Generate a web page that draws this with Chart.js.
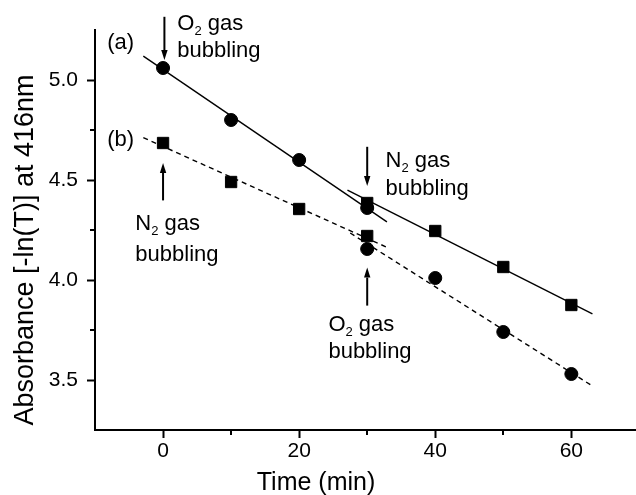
<!DOCTYPE html>
<html><head><meta charset="utf-8">
<script src="https://cdn.jsdelivr.net/npm/chart.js@4"></script>
<style>html,body{margin:0;padding:0;background:#fff;overflow:hidden}canvas{display:block}</style>
</head><body>
<canvas id="c" width="636" height="495"></canvas>
<script>
// ---- data ----
const TIME_BEFORE = [0, 10, 20, 30];
const TIME_AFTER = [30, 40, 50, 60];
const CIRCLE_BEFORE = [5.06, 4.80, 4.60, 4.36];    // (a) O2 bubbling
const CIRCLE_AFTER = [4.155, 4.01, 3.74, 3.53];    // circles after the switch
const SQUARE_BEFORE = [4.685, 4.49, 4.355, 4.22];  // (b) N2 bubbling
const SQUARE_AFTER = [4.385, 4.245, 4.065, 3.875]; // squares after the switch
const FIT_A_T = [-2.9, 32.9]; const FIT_A_V = [5.119, 4.291];
const FIT_B_T = [-2.9, 33.0]; const FIT_B_V = [4.712, 4.162];
const FIT_C_T = [27.1, 63.1]; const FIT_C_V = [4.449, 3.831];
const FIT_D_T = [27.5, 63.1]; const FIT_D_V = [4.235, 3.470];
const X_TICKS = [0, 20, 40, 60];
const X_MINOR = [10, 30, 50];
const Y_TICKS = [3.5, 4.0, 4.5, 5.0];
const Y_MINOR = [3.75, 4.25, 4.75];
const X_TITLE = 'Time (min)';
const Y_TITLE = 'Absorbance [-ln(T)] at 416nm';

// annotation anchors (data units)
const LABELS = [
  {t: -8.2, v: 5.157, parts: [['(a)']]},
  {t: -8.2, v: 4.671, parts: [['(b)']]},
  {t: 2.1, v: 5.251, parts: [['O'], ['2', true], [' gas']]},
  {t: 2.1, v: 5.117, parts: [['bubbling']]},
  {t: -4.07, v: 4.248, parts: [['N'], ['2', true], [' gas']]},
  {t: -4.07, v: 4.097, parts: [['bubbling']]},
  {t: 32.7, v: 4.565, parts: [['N'], ['2', true], [' gas']]},
  {t: 32.7, v: 4.423, parts: [['bubbling']]},
  {t: 24.3, v: 3.746, parts: [['O'], ['2', true], [' gas']]},
  {t: 24.3, v: 3.611, parts: [['bubbling']]}
];
const ARROWS = [
  {t: 0.2, from: 5.316, to: 5.10},
  {t: 0, from: 4.398, to: 4.585},
  {t: 30, from: 4.666, to: 4.47},
  {t: 30, from: 3.872, to: 4.062}
];

const FONT = "'Liberation Sans', Arial, Helvetica, sans-serif";

function pts(T, V) { return T.map((t, i) => ({x: t, y: V[i]})); }
function ptDs(T, V, style, r) {
  return {data: pts(T, V), showLine: false, pointStyle: style, pointRadius: r,
    backgroundColor: '#000', borderColor: '#000', borderWidth: 1};
}
function lineDs(T, V, dash) {
  return {data: pts(T, V), showLine: true, borderColor: '#000', borderWidth: 1.4,
    borderDash: dash, pointRadius: 0, fill: false, tension: 0};
}

const annot = {
  id: 'annot',
  afterDraw(chart) {
    const {ctx, scales: {x, y}, chartArea: b} = chart;
    ctx.save();
    ctx.fillStyle = '#000'; ctx.strokeStyle = '#000';
    ctx.lineWidth = 2;
    X_MINOR.forEach(v => {
      const px = Math.round(x.getPixelForValue(v));
      ctx.beginPath(); ctx.moveTo(px, b.bottom); ctx.lineTo(px, b.bottom + 5); ctx.stroke();
    });
    Y_MINOR.forEach(v => {
      const py = Math.round(y.getPixelForValue(v));
      ctx.beginPath(); ctx.moveTo(b.left, py); ctx.lineTo(b.left - 5, py); ctx.stroke();
    });
    ARROWS.forEach(a => {
      const px = x.getPixelForValue(a.t), y0 = y.getPixelForValue(a.from), y1 = y.getPixelForValue(a.to);
      const dir = Math.sign(y1 - y0), head = 10, hw = 3.2;
      ctx.lineWidth = 2;
      ctx.beginPath(); ctx.moveTo(px, y0); ctx.lineTo(px, y1 - dir * head); ctx.stroke();
      ctx.beginPath(); ctx.moveTo(px, y1); ctx.lineTo(px - hw, y1 - dir * head);
      ctx.lineTo(px + hw, y1 - dir * head); ctx.closePath(); ctx.fill();
    });
    ctx.textBaseline = 'alphabetic'; ctx.textAlign = 'left';
    LABELS.forEach(l => {
      let px = x.getPixelForValue(l.t);
      const py = y.getPixelForValue(l.v);
      l.parts.forEach(([s, sub]) => {
        ctx.font = (sub ? 13 : 22) + 'px ' + FONT;
        ctx.fillText(s, px, py + (sub ? 5 : 0));
        px += ctx.measureText(s).width;
      });
    });
    ctx.textAlign = 'center';
    ctx.font = '25px ' + FONT;
    ctx.fillText(X_TITLE, 316, 490);
    ctx.translate(33, 250); ctx.rotate(-Math.PI / 2);
    ctx.font = '27px ' + FONT;
    ctx.fillText(Y_TITLE, 0, 0);
    ctx.restore();
  }
};

new Chart(document.getElementById('c'), {
  type: 'scatter',
  data: {datasets: [
    ptDs(TIME_BEFORE, CIRCLE_BEFORE, 'circle', 6.5),
    ptDs(TIME_AFTER, CIRCLE_AFTER, 'circle', 6.5),
    ptDs(TIME_BEFORE, SQUARE_BEFORE, 'rect', 8),
    ptDs(TIME_AFTER, SQUARE_AFTER, 'rect', 8),
    lineDs(FIT_A_T, FIT_A_V, []),
    lineDs(FIT_B_T, FIT_B_V, [5, 4]),
    lineDs(FIT_C_T, FIT_C_V, []),
    lineDs(FIT_D_T, FIT_D_V, [5, 4])
  ]},
  options: {
    responsive: false, animation: false, events: [],
    layout: {autoPadding: false, padding: {top: 30, right: 0, left: 0, bottom: 0}},
    plugins: {legend: {display: false}, tooltip: {enabled: false}},
    scales: {
      x: {
        type: 'linear', min: -10, max: 69.5,
        afterBuildTicks: s => { s.ticks = X_TICKS.map(v => ({value: v})); },
        afterFit: s => { s.height = 65; s.paddingLeft = 0; s.paddingRight = 0; },
        border: {display: true, color: '#000', width: 2},
        grid: {display: true, drawOnChartArea: false, drawTicks: true, tickLength: 8, tickWidth: 2, tickColor: '#000', color: '#000'},
        ticks: {autoSkip: false, maxRotation: 0, color: '#000', padding: 1, font: {family: FONT, size: 21}, callback: v => String(v)},
        title: {display: false}
      },
      y: {
        type: 'linear', min: 3.25, max: 5.25,
        afterBuildTicks: s => { s.ticks = Y_TICKS.map(v => ({value: v})); },
        afterFit: s => { s.width = 95; s.paddingTop = 0; s.paddingBottom = 0; },
        border: {display: true, color: '#000', width: 2},
        grid: {display: true, drawOnChartArea: false, drawTicks: true, tickLength: 8, tickWidth: 2, tickColor: '#000', color: '#000'},
        ticks: {autoSkip: false, color: '#000', padding: 9, font: {family: FONT, size: 21}, callback: v => Number(v).toFixed(1)},
        title: {display: false}
      }
    }
  },
  plugins: [annot]
});
</script>
</body></html>
